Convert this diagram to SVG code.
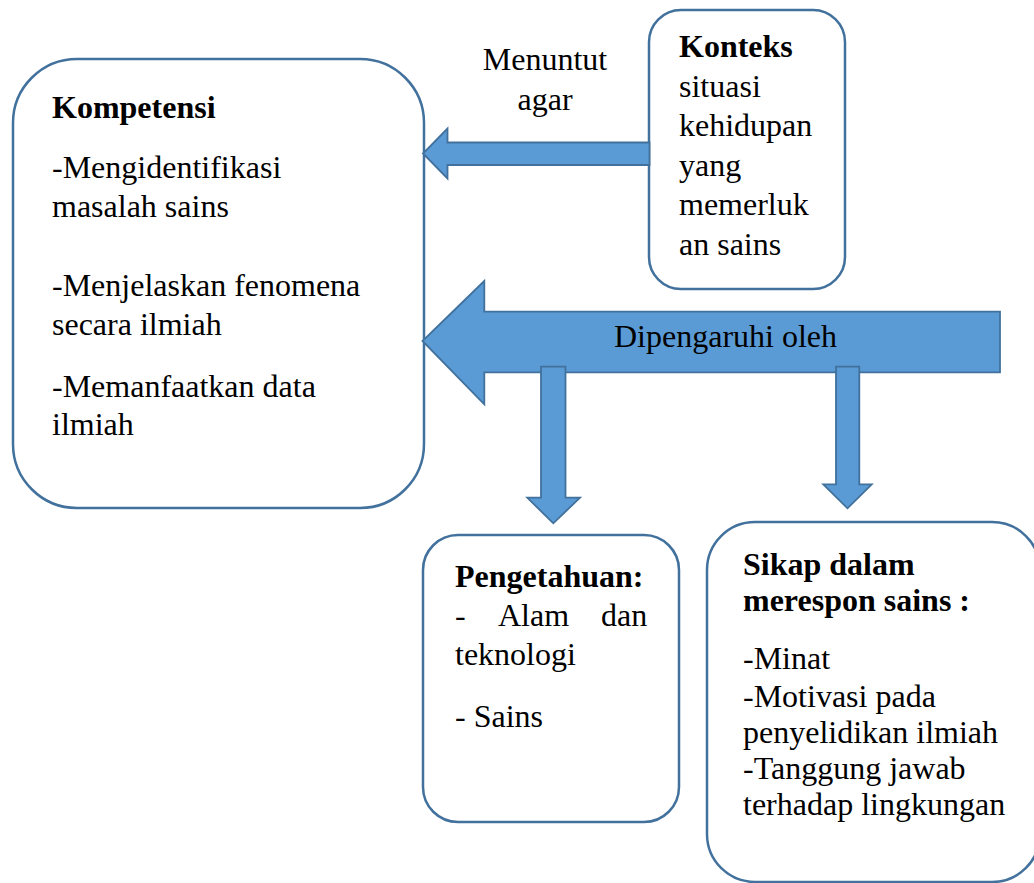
<svg xmlns="http://www.w3.org/2000/svg" width="1034" height="883" viewBox="0 0 1034 883" font-family="'Liberation Serif', 'Times New Roman', serif">
<style>
.box{fill:#ffffff;stroke:#41719C;stroke-width:2.5}
.arr{fill:#5B9BD5;stroke:#41719C;stroke-width:1.8;stroke-linejoin:miter}
text{font-family:"Liberation Serif","Times New Roman",serif;font-size:32px;fill:#000}
.b{font-weight:bold}
</style>
<rect width="1034" height="883" fill="#ffffff"/>
<g id="kompetensi">
<rect class="box" x="13" y="59" width="411" height="449" rx="64" ry="64"/>
<text class="b" x="52" y="118">Kompetensi</text>
<text x="52" y="178">-Mengidentifikasi</text>
<text x="52" y="217">masalah sains</text>
<text x="52" y="296">-Menjelaskan fenomena</text>
<text x="52" y="335">secara ilmiah</text>
<text x="52" y="397">-Memanfaatkan data</text>
<text x="52" y="435">ilmiah</text>
</g>
<g id="konteks">
<rect class="box" x="649" y="10" width="196" height="279" rx="32" ry="32"/>
<text class="b" x="679" y="57">Konteks</text>
<text x="679" y="96.5">situasi</text>
<text x="679" y="136">kehidupan</text>
<text x="679" y="175.5">yang</text>
<text x="679" y="215">memerluk</text>
<text x="679" y="254.5">an sains</text>
</g>
<g id="pengetahuan">
<rect class="box" x="423" y="535" width="256" height="287" rx="35" ry="35"/>
<text class="b" x="455" y="587">Pengetahuan:</text>
<text y="626"><tspan x="455">-</tspan><tspan x="498">Alam</tspan><tspan x="601">dan</tspan></text>
<text x="455" y="665">teknologi</text>
<text x="455" y="727">- Sains</text>
</g>
<g id="sikap">
<rect class="box" x="707" y="522" width="333" height="360" rx="48" ry="48"/>
<text class="b" x="743" y="575">Sikap dalam</text>
<text class="b" x="743" y="611">merespon sains :</text>
<text x="743" y="669">-Minat</text>
<text x="743" y="706.5">-Motivasi pada</text>
<text x="743" y="742.5">penyelidikan ilmiah</text>
<text x="743" y="778.5">-Tanggung jawab</text>
<text x="743" y="815">terhadap lingkungan</text>
</g>
<g id="connectors">
<path class="arr" d="M649.5,142.5 L447.5,142.5 L447.5,128.5 L423,153.5 L447.5,178.5 L447.5,165 L649.5,165 Z"/>
<text x="545" y="69.5" text-anchor="middle">Menuntut</text>
<text x="545" y="109.5" text-anchor="middle">agar</text>
<path class="arr" d="M1000,311.7 L484.3,311.7 L484.3,281 L422.5,341 L484.3,404.3 L484.3,372.3 L1000,372.3 Z"/>
<text x="725.5" y="347" text-anchor="middle">Dipengaruhi oleh</text>
<path class="arr" d="M541,366.7 L565.5,366.7 L565.5,497.7 L580,497.7 L553.3,523.3 L527.3,497.7 L541,497.7 Z"/>
<path class="arr" d="M836,366.7 L859.3,366.7 L859.3,484.3 L871.7,484.3 L847.5,508.3 L823.3,484.3 L836,484.3 Z"/>
</g>
</svg>
